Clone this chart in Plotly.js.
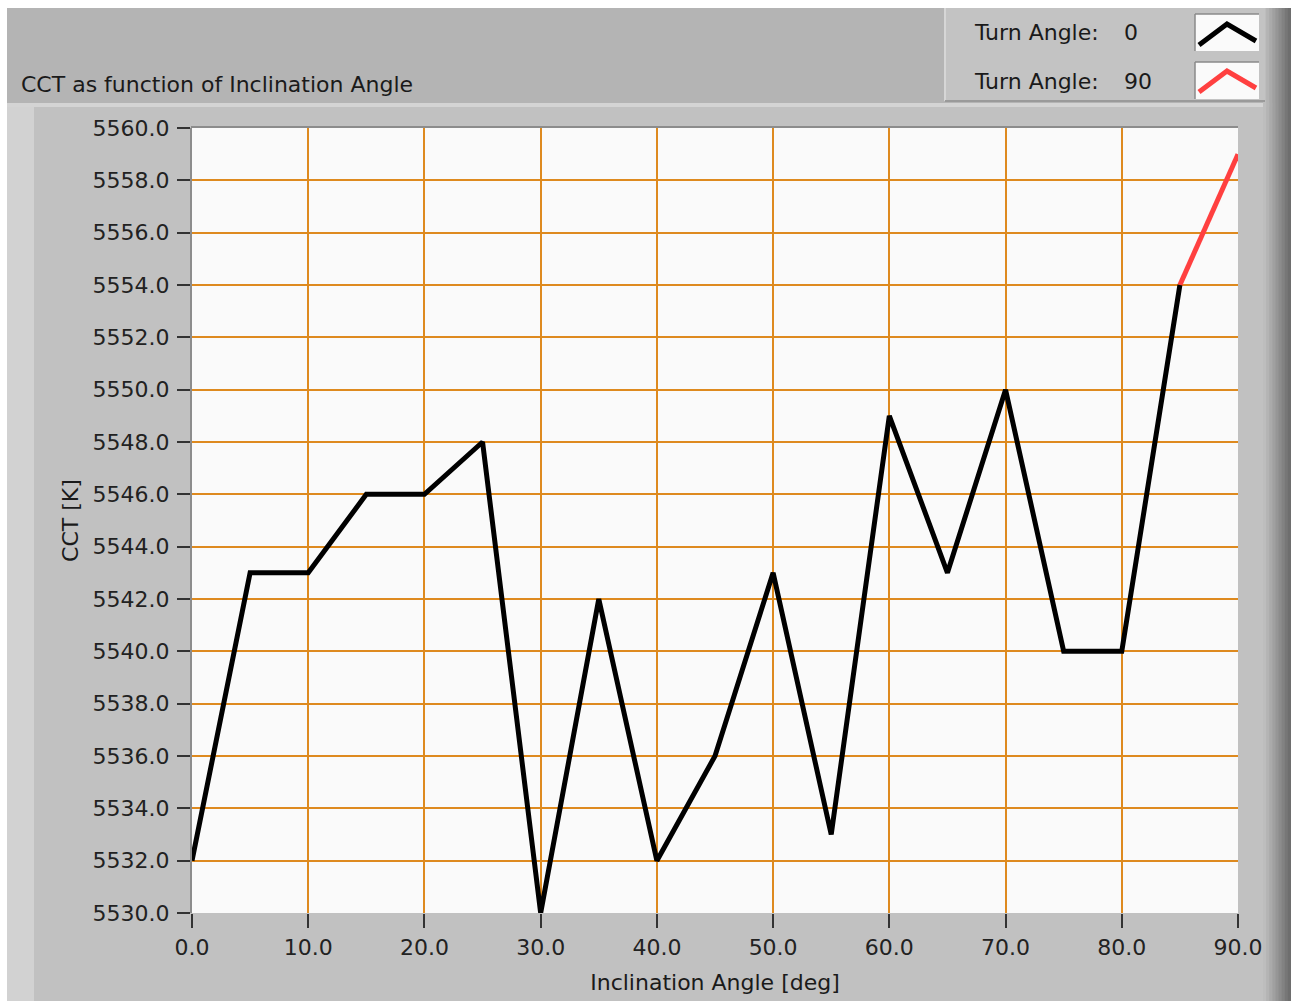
<!DOCTYPE html>
<html>
<head>
<meta charset="utf-8">
<script src="https://cdn.plot.ly/plotly-3.0.1.min.js"></script>
<style>html,body{margin:0;padding:0;background:#fff;}#chart{width:1291px;height:1001px;}</style>
</head>
<body>
<div id="chart"></div>
<script>
// Data
const inclination0 = [0, 5, 10, 15, 20, 25, 30, 35, 40, 45, 50, 55, 60, 65, 70, 75, 80, 85];
const cct0 = [5532, 5543, 5543, 5546, 5546, 5548, 5530, 5542, 5532, 5536, 5543, 5533, 5549, 5543, 5550, 5540, 5540, 5554];
const inclination90 = [85, 90];
const cct90 = [5554, 5559];
const seriesNames = ["Turn Angle:", "Turn Angle:"];
const seriesValues = ["0", "90"];
const chartTitle = "CCT as function of Inclination Angle";
const xTitle = "Inclination Angle [deg]";
const yTitle = "CCT [K]";

const W = 1291, H = 1001, L = 192, R = 1238, T = 128, B = 913;
const px = x => (x - L) / (R - L);
const py = y => (B - y) / (B - T);
function rect(x0, y0, x1, y1, fill, extra) {
  return Object.assign({type: 'rect', xref: 'paper', yref: 'paper', layer: 'below',
    x0: px(x0), x1: px(x1), y0: py(y1), y1: py(y0), fillcolor: fill, line: {width: 0}}, extra || {});
}
function line(x0, y0, x1, y1, color, w, layer) {
  return {type: 'line', xref: 'paper', yref: 'paper', layer: layer || 'below',
    x0: px(x0), x1: px(x1), y0: py(y0), y1: py(y1), line: {color: color, width: w}};
}
function path(pts, color, w) {
  let d = pts.map((p, i) => (i ? 'L' : 'M') + px(p[0]) + ',' + py(p[1])).join(' ');
  return {type: 'path', xref: 'paper', yref: 'paper', layer: 'above', path: d,
    line: {color: color, width: w}};
}

const shapes = [];
// top band
shapes.push(rect(7, 8, 1291, 103, '#b4b4b4'));
// main panel
shapes.push(rect(7, 103, 1291, 1001, '#c1c1c1'));
shapes.push(rect(7, 103, 1291, 107, '#d4d4d4'));
// left light strip
shapes.push(rect(7, 107, 34, 1001, '#d2d2d2'));
// right gradient
const grad = ['#bdbdbd', '#b4b4b4', '#aaaaaa', '#a0a0a0', '#969696', '#8c8c8c', '#828282', '#777777', '#6e6e6e'];
const gx0 = 1263, gw = (1291 - 1263) / grad.length;
grad.forEach((c, i) => shapes.push(rect(gx0 + i * gw, 8, gx0 + (i + 1) * gw + 0.5, 1001, c)));
// legend panel
shapes.push(rect(945, 8, 1265, 101, '#c3c3c3'));
shapes.push(line(945, 8, 945, 101, '#d6d6d6', 2));
shapes.push(line(945, 101, 1265, 101, '#9a9a9a', 2));
// legend glyph boxes
shapes.push(rect(1195, 14, 1259, 51, '#fafafa'));
shapes.push(line(1195, 14, 1259, 14, '#8a8a8a', 1.5));
shapes.push(line(1195, 14, 1195, 51, '#8a8a8a', 1.5));
shapes.push(rect(1195, 62, 1259, 99, '#fafafa'));
shapes.push(line(1195, 62, 1259, 62, '#8a8a8a', 1.5));
shapes.push(line(1195, 62, 1195, 99, '#8a8a8a', 1.5));
// plot area background
shapes.push(rect(L, T, R, B, '#fafafa'));
// top border
shapes.push(line(L - 1, T - 1, R, T - 1, '#8c8c8c', 2, 'above'));
// legend glyphs
shapes.push(path([[1199, 45], [1227, 24], [1256, 41]], '#000000', 5));
shapes.push(path([[1199, 92], [1227, 71], [1256, 88]], '#ff4040', 5));

const annFont = {family: 'DejaVu Sans', size: 22, color: '#1a1a1a'};
const annotations = [
  {text: chartTitle, xref: 'paper', yref: 'paper', x: px(19), y: py(84), xanchor: 'left', yanchor: 'middle', showarrow: false, font: annFont},
  {text: seriesNames[0], xref: 'paper', yref: 'paper', x: px(972), y: py(32), xanchor: 'left', yanchor: 'middle', showarrow: false, font: annFont},
  {text: seriesValues[0], xref: 'paper', yref: 'paper', x: px(1122), y: py(32), xanchor: 'left', yanchor: 'middle', showarrow: false, font: annFont},
  {text: seriesNames[1], xref: 'paper', yref: 'paper', x: px(972), y: py(81), xanchor: 'left', yanchor: 'middle', showarrow: false, font: annFont},
  {text: seriesValues[1], xref: 'paper', yref: 'paper', x: px(1122), y: py(81), xanchor: 'left', yanchor: 'middle', showarrow: false, font: annFont}
];

const traces = [
  {x: inclination90, y: cct90, mode: 'lines', line: {color: '#ff4040', width: 5}, name: seriesNames[1] + ' ' + seriesValues[1], hoverinfo: 'x+y'},
  {x: inclination0, y: cct0, mode: 'lines', line: {color: '#000000', width: 5}, name: seriesNames[0] + ' ' + seriesValues[0], hoverinfo: 'x+y'}
];

const tickFont = {family: 'DejaVu Sans', size: 22, color: '#222222'};
const titleFont = {family: 'DejaVu Sans', size: 22, color: '#1a1a1a'};
const layout = {
  width: W, height: H,
  paper_bgcolor: '#ffffff',
  plot_bgcolor: 'rgba(0,0,0,0)',
  showlegend: false,
  margin: {l: L, r: W - R, t: T, b: H - B, pad: 0},
  xaxis: {
    range: [0, 90], dtick: 10, tick0: 0, tickformat: '.1f',
    showgrid: true, gridcolor: '#de8a1f', gridwidth: 2,
    zeroline: false, showline: false,
    ticks: 'outside', ticklen: 14, tickwidth: 2, tickcolor: '#333333',
    ticklabelstandoff: 1,
    tickfont: tickFont,
    title: {text: xTitle, font: titleFont, standoff: 15},
    automargin: false, fixedrange: true
  },
  yaxis: {
    range: [5530, 5560], dtick: 2, tick0: 5530, tickformat: '.1f',
    showgrid: true, gridcolor: '#de8a1f', gridwidth: 2,
    zeroline: false, showline: true, linecolor: '#8c8c8c', linewidth: 2,
    ticks: 'outside', ticklen: 13, tickwidth: 2, tickcolor: '#333333',
    ticklabelstandoff: 3,
    tickfont: tickFont,
    title: {text: yTitle, font: titleFont, standoff: 8},
    automargin: false, fixedrange: true
  },
  shapes: shapes,
  annotations: annotations
};

Plotly.newPlot('chart', traces, layout, {displayModeBar: false, staticPlot: true});
</script>
</body>
</html>
